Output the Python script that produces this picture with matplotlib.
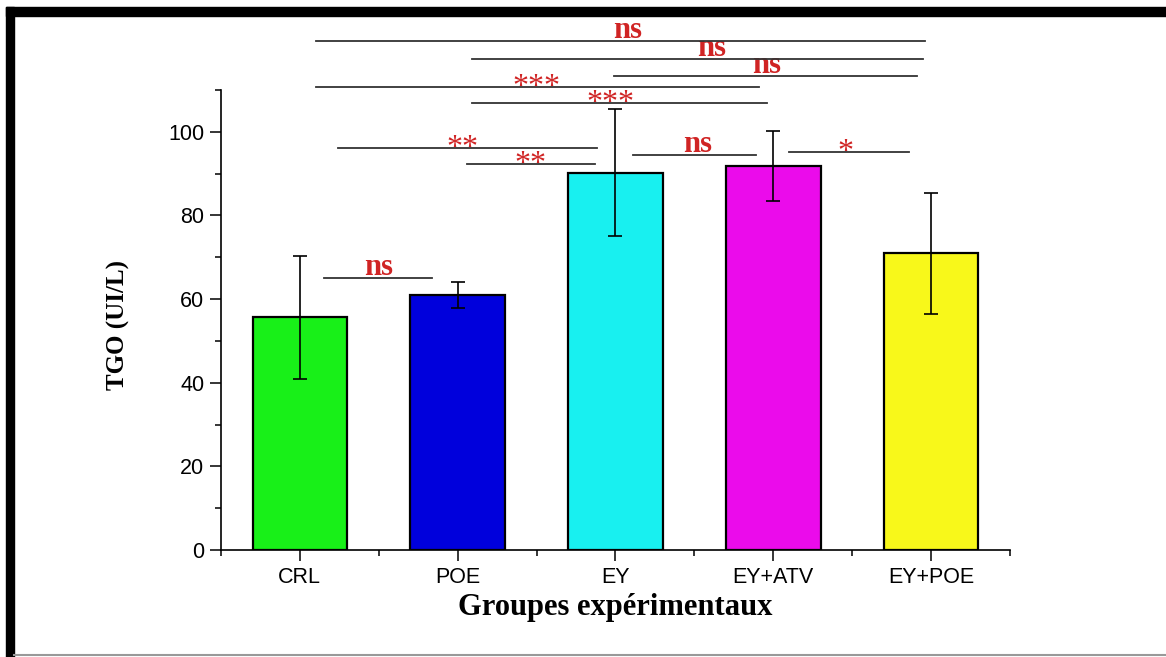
import matplotlib
matplotlib.use("Agg")
import matplotlib.pyplot as plt
from matplotlib.patches import Rectangle
from matplotlib.lines import Line2D

# Groupes, moyennes de TGO (UI/L) et écarts-types
groupes = ["CRL", "POE", "EY", "EY+ATV", "EY+POE"]
moyennes = [55.7, 61.0, 90.2, 91.8, 70.9]
ecarts = [14.7, 3.1, 15.2, 8.4, 14.45]
couleurs = ["#18f018", "#0000dc", "#18f0f0", "#eb0beb", "#f8f81a"]

# Comparaisons : (début, fin, hauteur de la barre, position du texte, signe)
comparaisons = [
    (0.10, 3.96, 121.7, 2.08, "ns"),
    (1.09, 3.95, 117.4, 2.61, "ns"),
    (1.99, 3.91, 113.3, 2.96, "ns"),
    (0.10, 2.91, 110.7, 1.50, "***"),
    (1.09, 2.96, 106.9, 1.97, "***"),
    (0.24, 1.88, 96.1, 1.03, "**"),
    (1.06, 1.87, 92.3, 1.46, "**"),
    (2.11, 2.89, 94.4, 2.52, "ns"),
    (3.10, 3.86, 95.1, 3.46, "*"),
    (0.15, 0.84, 65.0, 0.50, "ns"),
]

ROUGE = "#d02424"
SERIF = ["Liberation Serif", "DejaVu Serif"]

fig = plt.figure(figsize=(11.66, 6.57), dpi=100)
ax = fig.add_axes([0.1895, 0.1629, 0.6767, 0.7002])

x = list(range(len(groupes)))
ax.bar(x, moyennes, width=0.6, color=couleurs, edgecolor="black",
       linewidth=1.6, zorder=2)
ax.errorbar(x, moyennes, yerr=ecarts, fmt="none", ecolor="black",
            elinewidth=1.2, capsize=4.8, capthick=1.2, zorder=3)

ax.set_xlim(-0.5, 4.5)
ax.set_ylim(0, 110)
ax.set_xticks(x)
ax.set_xticklabels(groupes, family="Liberation Sans", fontsize=15.5)
ax.set_xticks([-0.5, 0.5, 1.5, 2.5, 3.5, 4.5], minor=True)
ax.set_yticks(range(0, 101, 20))
ax.set_yticklabels([str(v) for v in range(0, 101, 20)],
                   family="Liberation Sans", fontsize=15.5)
ax.set_yticks(range(10, 111, 20), minor=True)
ax.tick_params(which="major", length=8, width=1.1, direction="out")
ax.tick_params(which="minor", length=4.5, width=1.1, direction="out")
ax.tick_params(axis="y", pad=4)
ax.tick_params(axis="x", pad=4)

for s in ("top", "right"):
    ax.spines[s].set_visible(False)
for s in ("left", "bottom"):
    ax.spines[s].set_linewidth(1.2)

ax.set_ylabel("TGO (UI/L)", family=SERIF, fontweight="bold", fontsize=18)
ax.yaxis.set_label_coords(-0.115, 0.49)
ax.set_xlabel("Groupes expérimentaux", family=SERIF, fontweight="bold",
              fontsize=22)
ax.xaxis.set_label_coords(0.5, -0.126)
ax.xaxis.label.set_va("center")

# barres de significativité
for x1, x2, h, xt, signe in comparaisons:
    ax.add_line(Line2D([x1, x2], [h, h], color="#333333", linewidth=1.3,
                       clip_on=False, zorder=4))
    if signe == "ns":
        ax.annotate(signe, (xt, h), xytext=(0, 2), textcoords="offset points",
                    ha="center", va="baseline", color=ROUGE, family=SERIF,
                    fontweight="bold", fontsize=22, annotation_clip=False)
    else:
        ax.annotate(signe, (xt, h), xytext=(0, -5.5), textcoords="offset points",
                    ha="center", va="baseline", color=ROUGE, family=SERIF,
                    fontsize=23, annotation_clip=False)

# cadre noir autour de la figure
fig.patches.append(Rectangle((0.0052, 0.9756), 0.9948, 0.0137,
                             transform=fig.transFigure, color="black"))
fig.patches.append(Rectangle((0.0052, 0.0), 0.0068, 0.9893,
                             transform=fig.transFigure, color="black"))
fig.add_artist(Line2D([0.012, 1.0], [0.003, 0.003], transform=fig.transFigure,
                      color="#999999", linewidth=1.5))

fig.savefig("out.png", dpi=100)
